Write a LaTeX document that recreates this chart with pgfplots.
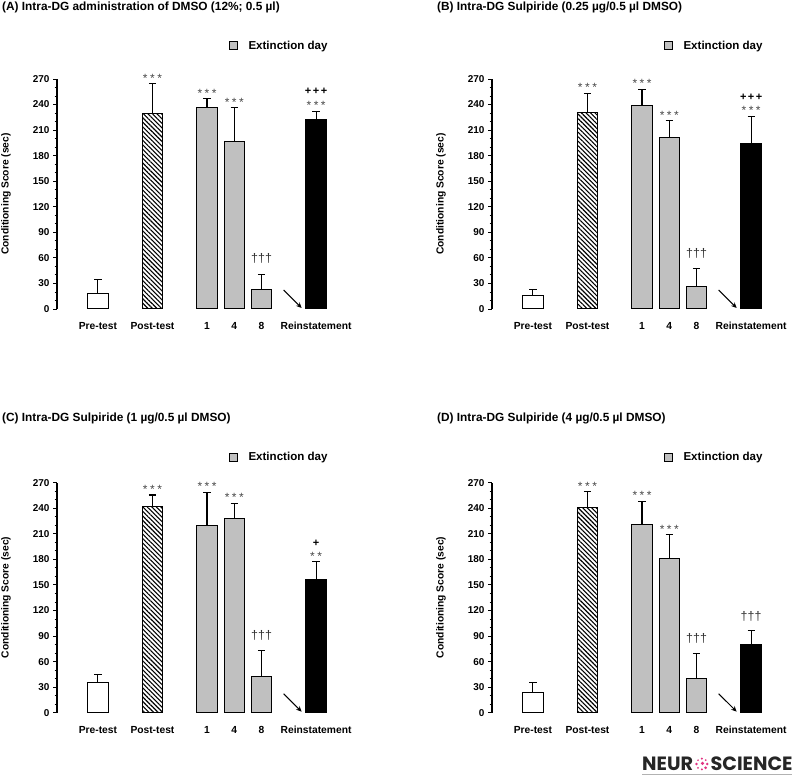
\documentclass[border=0pt]{standalone}
\usepackage{pgfplots}
\pgfplotsset{compat=1.18}
\usepackage{fontspec}
\setmainfont{Liberation Sans}
\newfontfamily\logofont{Poppins}
\usetikzlibrary{patterns.meta,arrows.meta}
\definecolor{barg}{RGB}{192,192,192}
\definecolor{stargray}{RGB}{70,70,70}
\definecolor{logopink}{RGB}{225,50,130}

\pgfplotsset{
  panel/.style={
    scale only axis, width=300bp, height=230bp,
    xmin=-1.5, xmax=9.5, ymin=0, ymax=270,
    axis lines*=left, clip=false,
    x axis line style={draw=none},
    y axis line style={line width=1.1bp, black},
    xtick={0,2,4,5,6,8},
    xticklabels={Pre-test,Post-test,1,4,8,Reinstatement},
    x tick style={draw=none},
    ytick={0,30,...,270}, minor y tick num=2,
    tick align=outside, major tick length=4bp, minor tick length=2.5bp,
    y tick style={line width=0.9bp, black},
    /pgf/number format/assume math mode=true,
    yticklabel style={font=\bfseries\fontsize{10}{12}\selectfont},
    xticklabel style={font=\bfseries\fontsize{10.3}{12}\selectfont, yshift=-6bp},
    legend style={draw=none, fill=none, inner sep=0pt,
      font=\bfseries\fontsize{11.6}{13}\selectfont},
  },
  bstyle/.style={ybar, bar width=0.75, bar shift=0pt, draw=black, line width=1bp,
    error bars/y dir=plus, error bars/y explicit,
    error bars/error mark=-,
    error bars/error bar style={line width=1.1bp, black, solid},
    error bars/error mark options={line width=1.1bp, mark size=3.6bp, black, rotate=90}},
  pre/.style={bstyle, fill=white, forget plot},
  post/.style={bstyle, fill=white, postaction={pattern={Lines[angle=-45,distance=3.2bp,line width=1.1bp]}, pattern color=black}, forget plot},
  ext/.style={bstyle, fill=barg,
    legend image code/.code={\draw[fill=barg, draw=black, line width=1bp] (0bp,-4bp) rectangle (8bp,4bp); \path[draw=none, fill=none] (0bp,0bp) -- (17bp,0bp);}},
  rein/.style={bstyle, fill=black, forget plot},
}
\tikzset{
  ast/.style={anchor=base, inner sep=0pt, text=stargray, font=\fontsize{12}{12}\selectfont},
  dag/.style={anchor=base, inner sep=0pt, text=black!80, font=\fontsize{12.5}{12}\selectfont},
  pls/.style={anchor=base, inner sep=0pt, text=black, font=\bfseries\fontsize{11}{12}\selectfont},
  arr/.style={line width=1bp, -{Stealth[length=5.5bp,width=5bp]}},
}
\newcommand{\three}{*\hspace{2.5bp}*\hspace{2.5bp}*}
\newcommand{\two}{*\hspace{2.5bp}*}
\newcommand{\pthree}{+\hspace{1.5bp}+\hspace{1.5bp}+}

\begin{document}
\begin{tikzpicture}[x=1bp,y=1bp]
\path[use as bounding box] (0,0) rectangle (793,776);

% ---------------- (A)
\begin{axis}[panel, at={(57bp,467bp)}, anchor=south west,
  legend style={at={(axis cs:4.8,309)}, anchor=west}]
\addplot[pre] coordinates {(0,18) +- (0,17)};
\addplot[post] coordinates {(2,229) +- (0,35.5)};
\addplot[ext] coordinates {(4,237) +- (0,10) (5,196.5) +- (0,39.5) (6,22.5) +- (0,17.5)};
\addlegendentry{Extinction day}
\addplot[rein] coordinates {(8,222.5) +- (0,9.5)};
\node[ast] at (axis cs:2,265.8) {\three};
\node[ast] at (axis cs:4,248.8) {\three};
\node[ast] at (axis cs:5,237.8) {\three};
\node[dag] at (axis cs:6,54.2) {†††};
\node[pls] at (axis cs:8,251.4) {\pthree};
\node[ast] at (axis cs:8,233.8) {\three};
\draw[arr] (axis cs:6.81,22.3) -- (axis cs:7.47,1.2);
\end{axis}

% ---------------- (B)
\begin{axis}[panel, at={(492bp,467bp)}, anchor=south west,
  legend style={at={(axis cs:4.8,309)}, anchor=west}]
\addplot[pre] coordinates {(0,15.5) +- (0,7.5)};
\addplot[post] coordinates {(2,231) +- (0,22)};
\addplot[ext] coordinates {(4,239) +- (0,19) (5,201.5) +- (0,19.5) (6,26) +- (0,22)};
\addlegendentry{Extinction day}
\addplot[rein] coordinates {(8,194) +- (0,32)};
\node[ast] at (axis cs:2,254.8) {\three};
\node[ast] at (axis cs:4,259.8) {\three};
\node[ast] at (axis cs:5,222.8) {\three};
\node[dag] at (axis cs:6,60.2) {†††};
\node[pls] at (axis cs:8,244.4) {\pthree};
\node[ast] at (axis cs:8,228.8) {\three};
\draw[arr] (axis cs:6.81,22.3) -- (axis cs:7.47,1.2);
\end{axis}

% ---------------- (C)
\begin{axis}[panel, at={(57bp,63.3bp)}, anchor=south west,
  legend style={at={(axis cs:4.8,300)}, anchor=west}]
\addplot[pre] coordinates {(0,35) +- (0,10)};
\addplot[post] coordinates {(2,242.5) +- (0,13)};
\addplot[ext] coordinates {(4,219.5) +- (0,39.5) (5,228.5) +- (0,17.5) (6,42) +- (0,31.5)};
\addlegendentry{Extinction day}
\addplot[rein] coordinates {(8,156) +- (0,21)};
\node[ast] at (axis cs:2,256.8) {\three};
\node[ast] at (axis cs:4,260.3) {\three};
\node[ast] at (axis cs:5,247.8) {\three};
\node[dag] at (axis cs:6,86.2) {†††};
\node[pls] at (axis cs:8,195.4) {+};
\node[ast] at (axis cs:8,178.8) {\two};
\draw[arr] (axis cs:6.81,22.3) -- (axis cs:7.47,1.2);
\end{axis}

% ---------------- (D)
\begin{axis}[panel, at={(492bp,63.3bp)}, anchor=south west,
  legend style={at={(axis cs:4.8,300)}, anchor=west}]
\addplot[pre] coordinates {(0,23.5) +- (0,12)};
\addplot[post] coordinates {(2,241) +- (0,19)};
\addplot[ext] coordinates {(4,221) +- (0,27) (5,180.5) +- (0,28.5) (6,40) +- (0,29)};
\addlegendentry{Extinction day}
\addplot[rein] coordinates {(8,80) +- (0,16.5)};
\node[ast] at (axis cs:2,261.4) {\three};
\node[ast] at (axis cs:4,249.8) {\three};
\node[ast] at (axis cs:5,210.8) {\three};
\node[dag] at (axis cs:6,82.2) {†††};
\node[dag] at (axis cs:8,108.2) {†††};
\draw[arr] (axis cs:6.81,22.3) -- (axis cs:7.47,1.2);
\end{axis}

% titles
\tikzset{ttl/.style={anchor=west, inner sep=0pt, font=\bfseries\fontsize{11.9}{13}\selectfont}}
\node[ttl] at (2,769) {(A) Intra-DG administration of DMSO (12\%; 0.5 µl)};
\node[ttl] at (437,769) {(B) Intra-DG Sulpiride (0.25 µg/0.5 µl DMSO)};
\node[ttl] at (2,358) {(C) Intra-DG Sulpiride (1 µg/0.5 µl DMSO)};
\node[ttl] at (437,358) {(D) Intra-DG Sulpiride (4 µg/0.5 µl DMSO)};

% y labels
\tikzset{ylab/.style={rotate=90, inner sep=0pt, font=\bfseries\fontsize{10.3}{12}\selectfont}}
\node[ylab] at (6,582) {Conditioning Score (sec)};
\node[ylab] at (441,582) {Conditioning Score (sec)};
\node[ylab] at (6,178.5) {Conditioning Score (sec)};
\node[ylab] at (441,178.5) {Conditioning Score (sec)};

% logo
\node[anchor=west, inner sep=0pt, text=black!85, font=\logofont\bfseries\fontsize{19.3}{19}\selectfont] (L1) at (642,12) {NEUR};
\begin{scope}[shift={(L1.east)}, xshift=8.5bp]
\foreach \a/\r in {0/1.4,45/1.0,90/1.2,135/0.9,180/1.3,225/1.0,270/1.1,315/1.5}
  \fill[logopink] (\a:5.4) circle (\r);
\fill[logopink] (0.6,0.6) circle (1.8);
\end{scope}
\node[anchor=west, inner sep=0pt, text=black!85, font=\logofont\bfseries\fontsize{19.3}{19}\selectfont] at ([xshift=17bp]L1.east) {SCIENCE};
\draw[gray!60, line width=0.6bp] (642,2) -- (792,2);
\end{tikzpicture}
\end{document}
